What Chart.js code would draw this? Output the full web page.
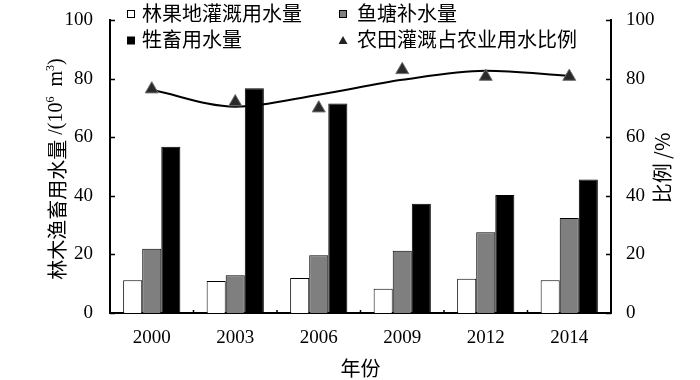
<!DOCTYPE html>
<html lang="zh">
<head>
  <meta charset="UTF-8" />
  <title>农业用水量</title>
  <script src="https://cdn.jsdelivr.net/npm/chart.js"></script>
  <style>
    body { margin: 0; background: #fff; }
    #wrap { width: 700px; height: 380px; }
  </style>
</head>
<body>
<div id="wrap"><canvas id="waterChart" width="700" height="380"></canvas></div>
<script>
  // data
  const years = ["2000", "2003", "2006", "2009", "2012", "2014"];
  const forestWater = [11.2, 10.9, 12.0, 8.3, 11.7, 11.2];
  const fishWater = [22.0, 12.9, 19.7, 21.3, 27.6, 32.5];
  const livestockWater = [56.8, 76.8, 71.6, 37.3, 40.3, 45.6];
  const irrigationRatio = [76.5, 72.1, 70.0, 83.1, 80.8, 80.8];
  const ratioTrend = [76.3, 70.5, 74.6, 79.7, 82.8, 81.1];
  const leftTicks = [0, 20, 40, 60, 80, 100];

  const CJK = '"Noto Sans CJK SC", "Noto Sans", sans-serif';
  const SERIF = '"Liberation Serif", "DejaVu Serif", serif';

  // inward tick marks + titles + 2x2 legend
  const decor = {
    id: "decor",
    afterDraw(chart) {
      const ctx = chart.ctx;
      const { y, y1, x } = chart.scales;
      const area = chart.chartArea;
      ctx.save();
      ctx.strokeStyle = "#000";
      ctx.lineWidth = 1.5;
      ctx.beginPath();
      leftTicks.forEach(v => {
        const py = Math.round(y.getPixelForValue(v)) + 0.5;
        ctx.moveTo(area.left, py); ctx.lineTo(area.left + 5, py);
        const py1 = Math.round(y1.getPixelForValue(v)) + 0.5;
        ctx.moveTo(area.right, py1); ctx.lineTo(area.right - 5, py1);
      });
      for (let i = 0; i < years.length - 1; i++) {
        const px = (x.getPixelForValue(i) + x.getPixelForValue(i + 1)) / 2;
        ctx.moveTo(px, area.bottom); ctx.lineTo(px, area.bottom - 3);
      }
      ctx.stroke();

      ctx.fillStyle = "#000";
      ctx.textBaseline = "middle";

      // left title, mixed fonts
      const parts = [
        { t: "林木渔畜用水量", f: "20px " + CJK, dy: 0 },
        { t: " /(10", f: "20px " + SERIF, dy: 0 },
        { t: "6", f: "12px " + SERIF, dy: -6 },
        { t: "  m", f: "20px " + SERIF, dy: 0 },
        { t: "3", f: "12px " + SERIF, dy: -6 },
        { t: ")", f: "20px " + SERIF, dy: 0 }
      ];
      let total = 0;
      parts.forEach(p => { ctx.font = p.f; p.w = ctx.measureText(p.t).width; total += p.w; });
      ctx.save();
      ctx.translate(57, 169);
      ctx.rotate(-Math.PI / 2);
      let cx = -total / 2;
      ctx.textAlign = "left";
      parts.forEach(p => { ctx.font = p.f; ctx.fillText(p.t, cx, p.dy); cx += p.w; });
      ctx.restore();

      // right title
      ctx.save();
      ctx.translate(662, 168);
      ctx.rotate(-Math.PI / 2);
      ctx.textAlign = "center";
      ctx.font = "20px " + CJK;
      ctx.fillText("比例 /%", 0, 0);
      ctx.restore();

      // x title
      ctx.textAlign = "center";
      ctx.font = "20px " + CJK;
      ctx.fillText("年份", (area.left + area.right) / 2, 368);

      // legend
      const slots = [
        { ds: 0, bx: 131, tx: 142, ty: 13 },
        { ds: 1, bx: 343, tx: 357, ty: 13 },
        { ds: 2, bx: 131, tx: 142, ty: 39.5 },
        { ds: 3, bx: 343, tx: 357, ty: 39.5 }
      ];
      ctx.textAlign = "left";
      ctx.font = "20px " + CJK;
      slots.forEach(s => {
        const d = chart.data.datasets[s.ds];
        const by = s.ty + 1;
        ctx.lineWidth = 1;
        if (d.type === "line") {
          ctx.fillStyle = "#222";
          ctx.beginPath();
          ctx.moveTo(s.bx, by - 4.5);
          ctx.lineTo(s.bx + 4.5, by + 3.5);
          ctx.lineTo(s.bx - 4.5, by + 3.5);
          ctx.closePath();
          ctx.fill();
        } else {
          ctx.fillStyle = d.backgroundColor;
          ctx.fillRect(s.bx - 3.5, by - 3.5, 7, 7);
          ctx.strokeRect(s.bx - 3.5, by - 3.5, 7, 7);
        }
        ctx.fillStyle = "#000";
        ctx.fillText(d.label, s.tx, s.ty);
      });
      ctx.restore();
    }
  };

  new Chart(document.getElementById("waterChart"), {
    data: {
      labels: years,
      datasets: [
        { type: "bar", label: "林果地灌溉用水量", data: forestWater, yAxisID: "y",
          backgroundColor: "#ffffff", borderColor: "#000", borderWidth: 1, order: 2 },
        { type: "bar", label: "鱼塘补水量", data: fishWater, yAxisID: "y",
          backgroundColor: "#7f7f7f", borderColor: "#000", borderWidth: 1, order: 2 },
        { type: "bar", label: "牲畜用水量", data: livestockWater, yAxisID: "y",
          backgroundColor: "#000000", borderColor: "#000", borderWidth: 1, order: 2 },
        { type: "line", label: "农田灌溉占农业用水比例", data: irrigationRatio, yAxisID: "y1",
          showLine: false, pointStyle: "triangle", pointRadius: 7.5,
          pointBackgroundColor: "#2a2a2a", pointBorderColor: "#707070", pointBorderWidth: 1, order: 0 },
        { type: "line", label: "trend", data: ratioTrend, yAxisID: "y1",
          borderColor: "#000", borderWidth: 2, pointRadius: 0, fill: false,
          cubicInterpolationMode: "monotone", order: 1 }
      ]
    },
    options: {
      responsive: false,
      animation: false,
      layout: { padding: { top: 20, left: 0, right: 0, bottom: 0 } },
      datasets: { bar: { categoryPercentage: 0.685, barPercentage: 1 } },
      plugins: { legend: { display: false }, tooltip: { enabled: false } },
      scales: {
        x: {
          offset: true,
          grid: { display: false },
          border: { display: true, color: "#000", width: 2 },
          ticks: { color: "#000", font: { family: SERIF, size: 19 }, padding: 6 },
          afterFit(s) { s.height = 67; }
        },
        y: {
          position: "left", min: 0, max: 100,
          grid: { display: false },
          border: { display: true, color: "#000", width: 2 },
          ticks: { stepSize: 20, color: "#000", font: { family: SERIF, size: 19 }, padding: 9 },
          afterFit(s) { s.width = 110; }
        },
        y1: {
          position: "right", min: 0, max: 100,
          grid: { display: false },
          border: { display: true, color: "#000", width: 2 },
          ticks: { stepSize: 20, color: "#000", font: { family: SERIF, size: 19 }, padding: 7 },
          afterFit(s) { s.width = 89; }
        }
      }
    },
    plugins: [decor]
  });
</script>
</body>
</html>
